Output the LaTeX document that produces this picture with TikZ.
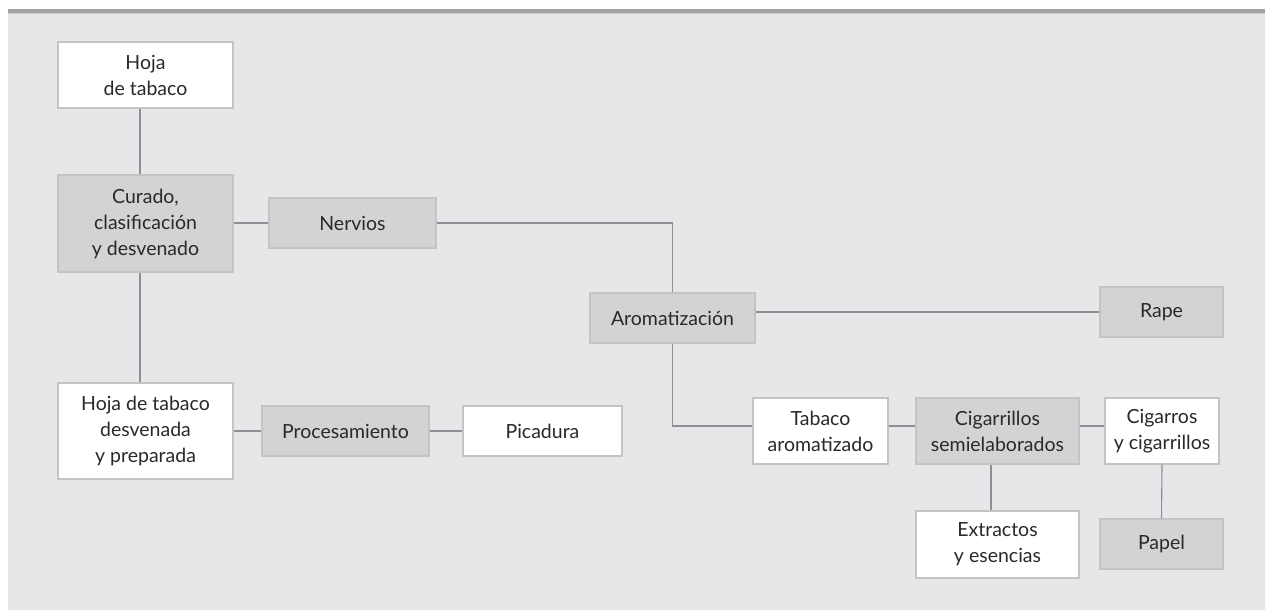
\documentclass[tikz,border=0pt]{standalone}
\usepackage{fontspec}
\setmainfont{Lato}
\definecolor{panelbg}{HTML}{E6E7E9}
\definecolor{boxgray}{HTML}{D2D3D5}
\definecolor{boxline}{HTML}{C3C4C6}
\definecolor{connline}{HTML}{8E8F92}
\definecolor{topdark}{HTML}{A2A3A5}
\definecolor{toplight}{HTML}{C9CACC}
\definecolor{txt}{HTML}{2A2829}
\begin{document}
\begin{tikzpicture}[x=1pt,y=-1pt,
  box/.style={draw=boxline,line width=1.2pt,text=txt,align=center,inner sep=0pt,
    font=\fontsize{19.5}{26}\selectfont},
  whitebox/.style={box,fill=white},
  graybox/.style={box,fill=boxgray},
  conn/.style={draw=connline,line width=1.1pt}]
\useasboundingbox (0,0) rectangle (1273,610);
\fill[white] (0,0) rectangle (1273,610);
\fill[panelbg] (8,14.5) rectangle (1265,610);
\fill[topdark] (8,9) rectangle (1265,12.6);
\fill[toplight] (8,12.6) rectangle (1265,14.5);

\node[whitebox,minimum width=175,minimum height=66] (hoja) at (145.5,75) {Hoja\\de tabaco};
\node[graybox,minimum width=175,minimum height=97] (curado) at (145.5,223.5) {Curado,\\clasificación\\y desvenado};
\node[graybox,minimum width=167,minimum height=50] (nervios) at (352.5,223) {Nervios};
\node[graybox,minimum width=165,minimum height=50] (arom) at (672.5,318) {Aromatización};
\node[graybox,minimum width=123,minimum height=50] (rape) at (1161.5,312) {Rape};
\node[whitebox,minimum width=175,minimum height=96] (desv) at (145.5,431) {Hoja de tabaco\\desvenada\\y preparada};
\node[graybox,minimum width=167,minimum height=50] (proc) at (345.5,431) {Procesamiento};
\node[whitebox,minimum width=159,minimum height=50] (pica) at (542.5,431) {Picadura};
\node[whitebox,minimum width=135,minimum height=66] (tabarom) at (820.5,431) {Tabaco\\aromatizado};
\node[graybox,minimum width=163,minimum height=66] (cigsemi) at (997.5,431) {Cigarrillos\\semielaborados};
\node[whitebox,minimum width=114,minimum height=66] (cigarros) at (1162,431) {Cigarros\\y cigarrillos};
\node[whitebox,minimum width=163,minimum height=67] (extr) at (997.5,544.5) {Extractos\\y esencias};
\node[graybox,minimum width=123,minimum height=50] (papel) at (1161.5,544) {Papel};

\draw[conn] ([xshift=-5.5pt]hoja.south) -- ([xshift=-5.5pt]curado.north);
\draw[conn] ([xshift=-5.5pt]curado.south) -- ([xshift=-5.5pt]desv.north);
\draw[conn] (nervios.west) -- (nervios.west -| curado.east);
\draw[conn] (nervios.east) -| (arom.north);
\draw[conn] (rape.west) -- (rape.west -| arom.east);
\draw[conn] (arom.south) |- ([yshift=5pt]tabarom.west);
\draw[conn] ([yshift=5pt]tabarom.east) -- ([yshift=5pt]cigsemi.west);
\draw[conn] ([yshift=5pt]cigsemi.east) -- ([yshift=5pt]cigarros.west);
\draw[conn] ([xshift=-6.5pt]cigsemi.south) -- ([xshift=-6.5pt]extr.north);
\draw[conn] (cigarros.south) -- (papel.north);
\draw[conn] (desv.east) -- (proc.west);
\draw[conn] (proc.east) -- (pica.west);
\end{tikzpicture}
\end{document}
